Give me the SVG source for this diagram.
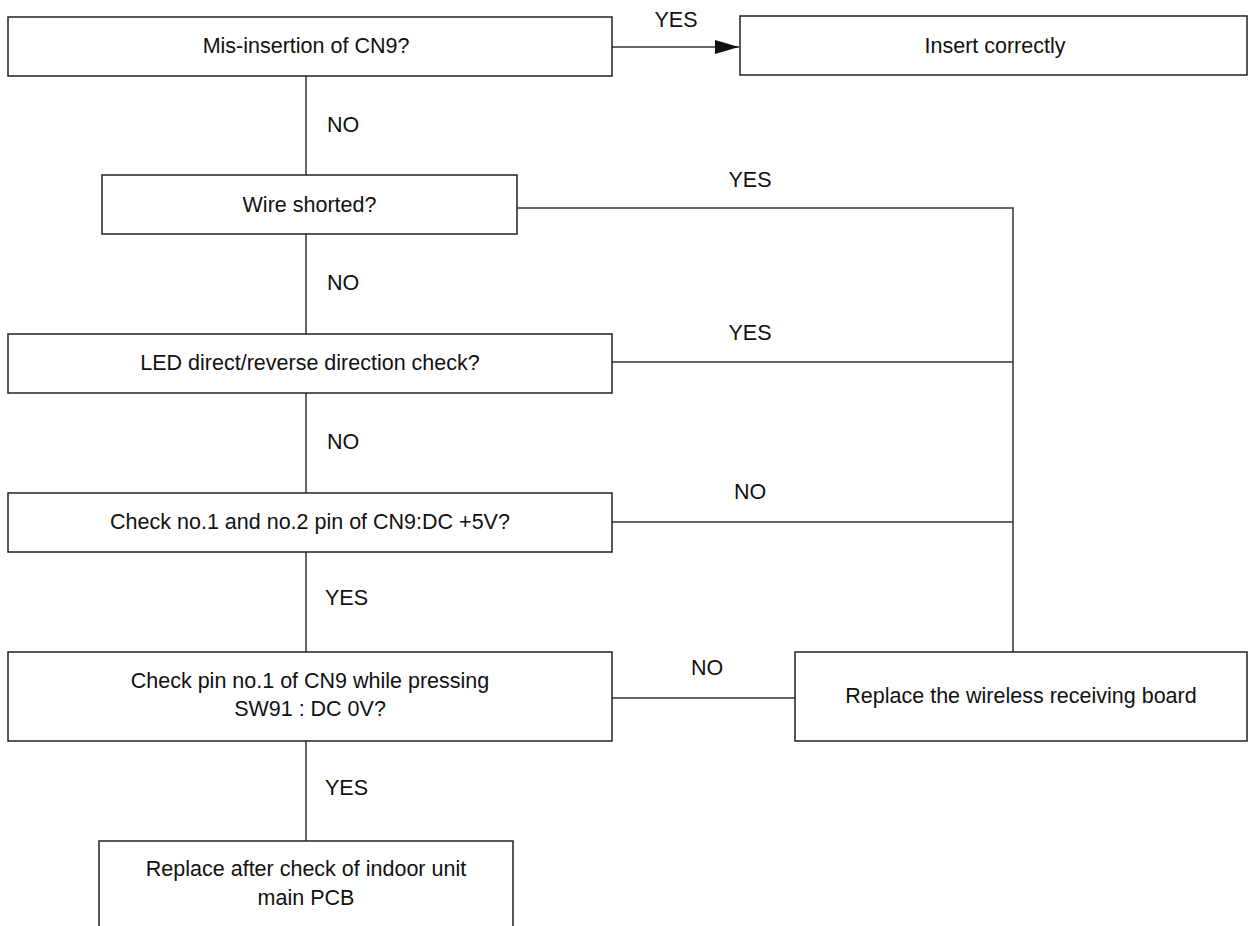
<svg xmlns="http://www.w3.org/2000/svg" width="1249" height="926" viewBox="0 0 1249 926">
<defs>
<style>
.box{fill:#fff;stroke:#222;stroke-width:1.5}
.t{font-family:"Liberation Sans",Arial,sans-serif;font-size:21.5px;fill:#111;text-anchor:middle;dominant-baseline:central}
.l{font-family:"Liberation Sans",Arial,sans-serif;font-size:21.5px;fill:#111;dominant-baseline:central}
.c{fill:none;stroke:#333;stroke-width:1.5}
</style>
<marker id="arr" markerWidth="24" markerHeight="14" refX="24" refY="7" orient="auto" markerUnits="userSpaceOnUse">
<path d="M0,0 L24,7 L0,14 Z" fill="#111"/>
</marker>
</defs>
<rect width="1249" height="926" fill="#fff"/>
<g id="connectors">
<path class="c" d="M612,47 H739" marker-end="url(#arr)"/>
<path class="c" d="M306,76 V175"/>
<path class="c" d="M306,234 V334"/>
<path class="c" d="M306,393 V493"/>
<path class="c" d="M306,552 V652"/>
<path class="c" d="M306,741 V841"/>
<path class="c" d="M517,208 H1013 V652"/>
<path class="c" d="M612,362 H1013"/>
<path class="c" d="M612,522 H1013"/>
<path class="c" d="M612,698 H795"/>
</g>
<g id="labels">
<text class="t" x="676" y="20">YES</text>
<text class="l" x="327" y="125">NO</text>
<text class="t" x="750" y="180">YES</text>
<text class="l" x="327" y="283">NO</text>
<text class="t" x="750" y="333">YES</text>
<text class="l" x="327" y="442">NO</text>
<text class="t" x="750" y="492">NO</text>
<text class="l" x="325" y="598">YES</text>
<text class="t" x="707" y="668">NO</text>
<text class="l" x="325" y="788">YES</text>
</g>
<g id="n1"><rect class="box" x="8" y="17" width="604" height="59"/><text class="t" x="306" y="46">Mis-insertion of CN9?</text></g>
<g id="n2"><rect class="box" x="740" y="16" width="507" height="59"/><text class="t" x="995" y="46">Insert correctly</text></g>
<g id="n3"><rect class="box" x="102" y="175" width="415" height="59"/><text class="t" x="309.5" y="205">Wire shorted?</text></g>
<g id="n4"><rect class="box" x="8" y="334" width="604" height="59"/><text class="t" x="310" y="363">LED direct/reverse direction check?</text></g>
<g id="n5"><rect class="box" x="8" y="493" width="604" height="59"/><text class="t" x="310" y="522">Check no.1 and no.2 pin of CN9:DC +5V?</text></g>
<g id="n6"><rect class="box" x="8" y="652" width="604" height="89"/><text class="t" x="310" y="681">Check pin no.1 of CN9 while pressing</text><text class="t" x="310" y="709">SW91 : DC 0V?</text></g>
<g id="n7"><rect class="box" x="795" y="652" width="452" height="89"/><text class="t" x="1021" y="696">Replace the wireless receiving board</text></g>
<g id="n8"><rect class="box" x="99" y="841" width="414" height="120"/><text class="t" x="306" y="869">Replace after check of indoor unit</text><text class="t" x="306" y="898">main PCB</text></g>
</svg>
